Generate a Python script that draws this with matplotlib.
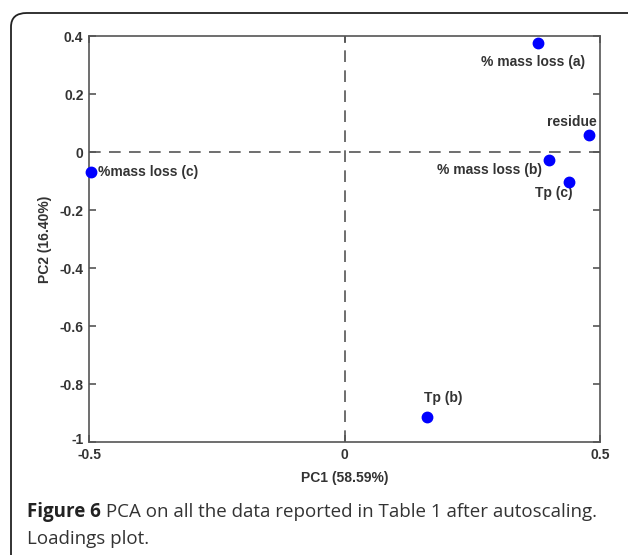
import matplotlib
matplotlib.use("Agg")
import matplotlib.pyplot as plt
import matplotlib.transforms as mtransforms
from matplotlib.patches import FancyBboxPatch

# Data
labels = ["% mass loss (a)", "residue", "% mass loss (b)", "Tp (c)", "%mass loss (c)", "Tp (b)"]
pc1 = [0.378, 0.479, 0.401, 0.440, -0.496, 0.161]
pc2 = [0.375, 0.059, -0.028, -0.104, -0.068, -0.915]
xticks = [-0.5, 0, 0.5]
xticklabels = ["-0.5", "0", "0.5"]
yticks = [0.4, 0.2, 0, -0.2, -0.4, -0.6, -0.8, -1]
yticklabels = ["0.4", "0.2", "0", "-0.2", "-0.4", "-0.6", "-0.8", "-1"]
xlabel = "PC1 (58.59%)"
ylabel = "PC2 (16.40%)"
caption_bold = "Figure 6"
caption_rest = " PCA on all the data reported in Table 1 after autoscaling."
caption_line2 = "Loadings plot."

# label offsets in pixels (dx, dy, ha)
offsets = [(-5, -19, "center"), (7, 13, "right"), (-7, -10, "right"),
           (-16, -11, "center"), (7, 0, "left"), (16, 19, "center")]

W, H = 628, 555
fig = plt.figure(figsize=(W / 100, H / 100), dpi=100)
fnt = ["Liberation Sans Narrow", "Liberation Sans", "DejaVu Sans"]
gray = "#555555"
tgray = "#333333"

# rounded border
border = FancyBboxPatch((11 / W, -0.2), (660 - 11) / W, (555 - 13) / H + 0.2,
                        boxstyle="round,pad=0,rounding_size=0.025",
                        transform=fig.transFigure, fill=False,
                        edgecolor="#222222", linewidth=1.3, clip_on=False)
fig.patches.append(border)

left, right, top, bottom = 89 / W, 600 / W, 1 - 36 / H, 1 - 442 / H
ax = fig.add_axes([left, bottom, right - left, top - bottom])
ax.set_xlim(-0.5, 0.5)
ax.set_ylim(-1, 0.4)
for s in ax.spines.values():
    s.set_color(gray)
    s.set_linewidth(1.2)
ax.axhline(0, color=gray, linestyle=(0, (7, 5)), linewidth=1.2)
ax.axvline(0, color=gray, linestyle=(0, (7, 5)), linewidth=1.2)

ax.plot(pc1, pc2, "o", color="#0000ff", markersize=7.5, zorder=5, clip_on=False)
for lab, x, y, (dx, dy, ha) in zip(labels, pc1, pc2, offsets):
    ax.annotate(lab, (x, y), xytext=(dx, dy), textcoords="offset pixels",
                ha=ha, va="center", fontsize=10, fontweight="bold",
                family=fnt, color=tgray)

ax.set_xticks(xticks)
ax.set_xticklabels(xticklabels)
ax.set_yticks(yticks)
ax.set_yticklabels(yticklabels)
ax.tick_params(direction="in", length=5, width=1.2, color=gray,
               top=True, right=True, labelsize=10, labelcolor=tgray, pad=4)
for t in ax.get_xticklabels() + ax.get_yticklabels():
    t.set_fontweight("bold")
    t.set_family(fnt)
# lift the "-1" label slightly, as in the original
last = ax.get_yticklabels()[-1]
last.set_transform(last.get_transform() +
                   mtransforms.ScaledTranslation(0, 4 / 100, fig.dpi_scale_trans))
ax.set_xlabel(xlabel, fontsize=10, fontweight="bold", family=fnt, color=tgray, labelpad=7)
ax.set_ylabel(ylabel, fontsize=10, fontweight="bold", family=fnt, color=tgray, labelpad=5)

# caption
cap_font = ["Open Sans", "DejaVu Sans"]
t1 = fig.text(27 / W, 1 - 512 / H, caption_bold, fontsize=13.5, fontweight="bold",
              family=cap_font, color="#222222", va="center", ha="left")
fig.canvas.draw()
bb = t1.get_window_extent()
fig.text(bb.x1 / W, 1 - 512 / H, caption_rest, fontsize=13.5, family=cap_font,
         color="#333333", va="center", ha="left")
fig.text(27 / W, 1 - 539 / H, caption_line2, fontsize=13.5, family=cap_font,
         color="#333333", va="center", ha="left")

fig.savefig("out.png", dpi=100)
